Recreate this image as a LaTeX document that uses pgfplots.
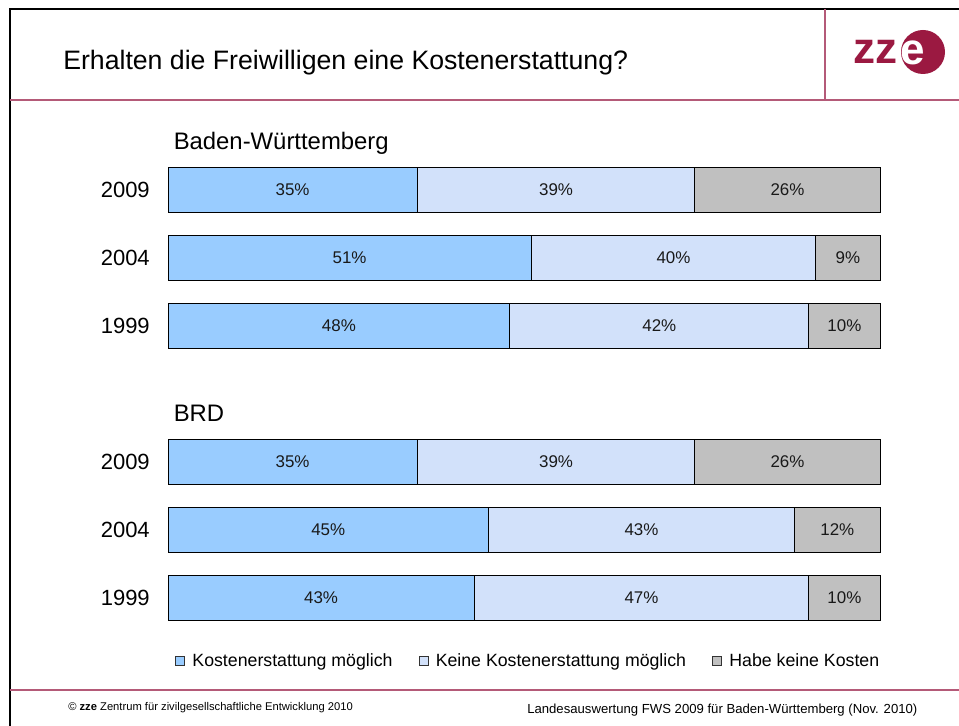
\documentclass[border=0pt]{standalone}
\usepackage{pgfplots}
\pgfplotsset{compat=1.18}
\usepackage{pgfplotstable}
\usepackage{fontspec}
\setmainfont{Liberation Sans}
\definecolor{barA}{RGB}{153,204,255}
\definecolor{barB}{RGB}{210,225,250}
\definecolor{barC}{RGB}{192,192,192}
\definecolor{zzered}{RGB}{155,25,65}
\definecolor{rule}{RGB}{180,90,120}

\pgfplotstableread{
y  a  b  c
6  35 39 26
5  51 40 9
4  48 42 10
2  35 39 26
1  45 43 12
0  43 47 10
}\data

\newcommand{\fs}[1]{\fontsize{#1}{#1}\selectfont}

\begin{document}
\begin{tikzpicture}
\begin{axis}[
  xbar stacked,
  scale only axis,
  x=5.34pt, y=51pt,
  xmin=0, xmax=100, ymin=-0.5, ymax=6.5,
  bar width=34.1pt,
  axis line style={draw=none},
  xtick=\empty,
  ytick={0,1,2,4,5,6},
  yticklabels={1999,2004,2009,1999,2004,2009},
  major tick length=0pt,
  ytick style={draw=none},
  yticklabel style={font=\fs{16.5}, inner sep=0pt, xshift=-13.5pt},
  clip=false,
  /pgf/number format/assume math mode=true,
  point meta=explicit,
  nodes near coords={\pgfmathprintnumber{\pgfplotspointmeta}\%},
  nodes near coords style={font=\fs{12.7}, text=black!90, anchor=center},
  legend columns=3,
  legend style={at={(0.0098,-0.0609)}, anchor=west, draw=none, fill=none,
    inner sep=0pt, font=\fs{13.3},
    /tikz/every odd column/.append style={column sep=3.5pt},
    /tikz/every even column/.append style={column sep=17.5pt}},
]
\addplot[fill=barA, draw=black, line width=0.75pt,
  legend image code/.code={\draw[fill=barA, draw=black!80, line width=0.6pt] (0pt,-3.4pt) rectangle (6.8pt,3.4pt);}]
  table[x=a, y=y, meta=a] {\data};
\addplot[fill=barB, draw=black, line width=0.75pt,
  legend image code/.code={\draw[fill=barB, draw=black!80, line width=0.6pt] (0pt,-3.4pt) rectangle (6.8pt,3.4pt);}]
  table[x=b, y=y, meta=b] {\data};
\addplot[fill=barC, draw=black, line width=0.75pt,
  legend image code/.code={\draw[fill=barC, draw=black!80, line width=0.6pt] (0pt,-3.4pt) rectangle (6.8pt,3.4pt);}]
  table[x=c, y=y, meta=c] {\data};
\legend{Kostenerstattung möglich, Keine Kostenerstattung möglich, Habe keine Kosten}
\coordinate (Z) at (axis cs:-23.596,8.794);
\end{axis}

\begin{scope}[shift={(Z)}, x=0.75pt, y=-0.75pt]
  % frame and rules
  \draw[line width=1.6pt] (10,726) -- (10,9) -- (960,9);
  \draw[rule, line width=1.6pt] (10,100) -- (960,100);
  \draw[rule, line width=0.8pt] (825,9) -- (825,100);
  \draw[rule, line width=1.2pt] (10,690) -- (960,690);
  % title
  \node[anchor=base west, inner sep=0pt, font=\fs{20}] at (63,69.5) {Erhalten die Freiwilligen eine Kostenerstattung?};
  % logo
  \fill[zzered] (923,52) circle (22);
  \node[anchor=base west, inner sep=0pt, font=\bfseries\fs{33}, text=zzered] at (853,64) {zz};
  \node[anchor=base west, inner sep=0pt, font=\bfseries\fs{33}, text=white] at (900,65) {e};
  % group titles
  \node[anchor=base west, inner sep=0pt, font=\fs{17.9}] at (173.5,149.5) {Baden-Württemberg};
  \node[anchor=base west, inner sep=0pt, font=\fs{17.9}] at (173.5,421.5) {BRD};
  % footer
  \node[anchor=west, inner sep=0pt, font=\fs{8.4}] at (68,708) {© \textbf{zze} Zentrum für zivilgesellschaftliche Entwicklung 2010};
  \node[anchor=west, inner sep=0pt, font=\fs{9.85}] at (527,710) {Landesauswertung FWS 2009 für Baden-Württemberg (Nov. 2010)};
\end{scope}
\pgfresetboundingbox
\path[use as bounding box, shift={(Z)}, x=0.75pt, y=-0.75pt] (0,0) rectangle (959,725);
\end{tikzpicture}
\end{document}
